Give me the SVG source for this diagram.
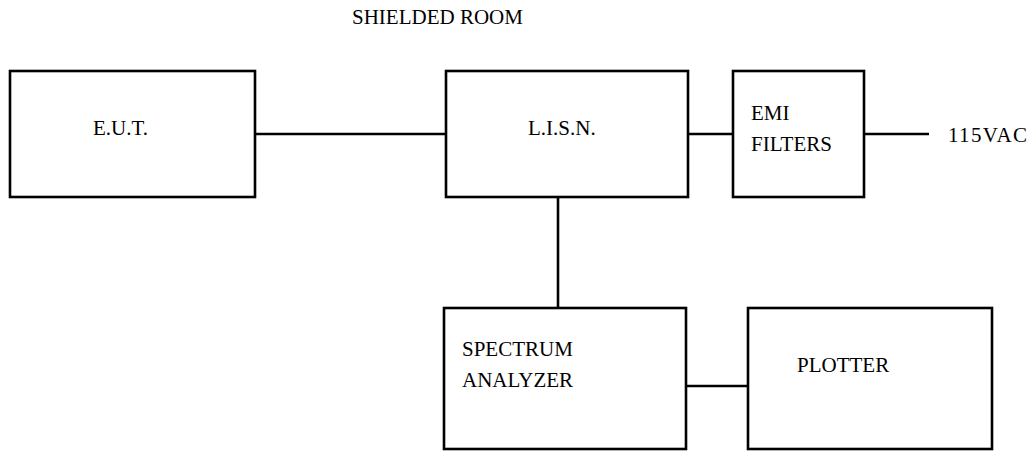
<svg xmlns="http://www.w3.org/2000/svg" width="1028" height="451" viewBox="0 0 1028 451">
<style>
.box{fill:#fff;stroke:#000;stroke-width:2.6}
.ln{stroke:#000;stroke-width:2.6;fill:none}
text{font-family:"Liberation Serif","Times New Roman",serif;font-size:21px;fill:#000}
</style>
<rect width="1028" height="451" fill="#fff"/>
<text id="title" x="352" y="24">SHIELDED ROOM</text>
<g id="connectors">
<line class="ln" x1="255" y1="134" x2="446" y2="134"/>
<line class="ln" x1="688" y1="134" x2="733" y2="134"/>
<line class="ln" x1="864" y1="134" x2="929" y2="134"/>
<line class="ln" x1="558" y1="197" x2="558" y2="308"/>
<line class="ln" x1="686" y1="386" x2="748" y2="386"/>
</g>
<g id="eut">
<rect class="box" x="10" y="71" width="245" height="126"/>
<text x="93" y="135">E.U.T.</text>
</g>
<g id="lisn">
<rect class="box" x="446" y="71" width="242" height="126"/>
<text x="528" y="135">L.I.S.N.</text>
</g>
<g id="emi">
<rect class="box" x="733" y="71" width="131" height="126"/>
<text x="751" y="120">EMI</text>
<text x="751" y="151">FILTERS</text>
</g>
<g id="vac">
<text x="948" y="142" textLength="79">115VAC</text>
</g>
<g id="analyzer">
<rect class="box" x="444" y="308" width="242" height="141"/>
<text x="462" y="356">SPECTRUM</text>
<text x="462" y="387">ANALYZER</text>
</g>
<g id="plotter">
<rect class="box" x="748" y="308" width="244" height="141"/>
<text x="797" y="372">PLOTTER</text>
</g>
</svg>
